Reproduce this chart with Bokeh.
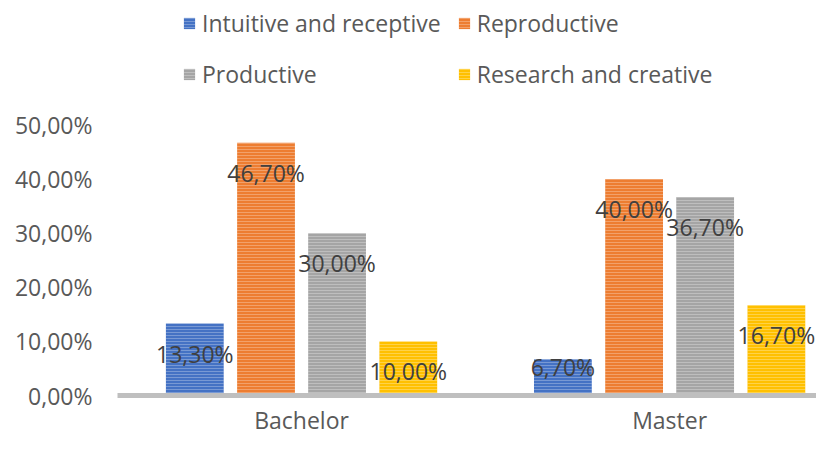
from bokeh.plotting import figure
from bokeh.models import Range1d, FixedTicker, ColumnDataSource, Legend, LegendItem
from bokeh.transform import dodge
from bokeh.embed import file_html
from bokeh.resources import INLINE
from bokeh.core.properties import value

groups = ["Bachelor", "Master"]
series_names = ["Intuitive and receptive", "Reproductive", "Productive", "Research and creative"]
intuitive = [13.3, 6.7]
reproductive = [46.7, 40.0]
productive = [30.0, 36.7]
research = [10.0, 16.7]
y_ticks = [0, 10, 20, 30, 40, 50]

colors = ["#4472C4", "#ED7D31", "#A5A5A5", "#FFC000"]
offsets = [-0.29, -0.0965, 0.0965, 0.29]
bar_w = 0.157
FONT = "Open Sans"
TXT = "#595959"

def pct(v):
    return f"{v:.2f}%".replace(".", ",")

p = figure(width=816, height=438, output_backend="svg", toolbar_location=None,
           x_range=Range1d(-0.5, 1.399), y_range=Range1d(0, 73),
           min_border_left=117, min_border_right=0, min_border_top=0,
           min_border_bottom=20)
p.outline_line_color = None
p.xgrid.visible = False
p.ygrid.visible = False

items = []
for name, vals, col, off in zip(series_names, [intuitive, reproductive, productive, research], colors, offsets):
    src = ColumnDataSource(dict(
        g=list(range(len(groups))),
        val=vals,
        lab=[pct(v) for v in vals],
        yoff=[30 if v >= 10 else 8 for v in vals],
    ))
    r = p.vbar(x=dodge("g", off), top="val", bottom=0, width=bar_w, source=src,
               fill_color=col, line_color=None,
               hatch_pattern="horizontal_line", hatch_color="white",
               hatch_alpha=0.28, hatch_scale=3, hatch_weight=1)
    p.text(x=dodge("g", off), y="val", text="lab", y_offset="yoff", source=src,
           text_align="center", text_baseline="middle",
           text_font=value(FONT), text_font_size="23px", text_color="#404040")
    items.append(LegendItem(label=name, renderers=[r]))

legend = Legend(items=items, location=(65, 304), orientation="horizontal", ncols=2,
                glyph_width=14, glyph_height=14, label_standoff=6, spacing=16,
                label_height=35, padding=0, margin=0, label_text_font=FONT,
                label_text_font_size="23px", label_text_color=TXT,
                background_fill_alpha=0, border_line_alpha=0)
p.add_layout(legend)

p.yaxis.ticker = FixedTicker(ticks=y_ticks)
p.yaxis.major_label_overrides = {t: pct(t) for t in y_ticks}
p.yaxis.axis_line_color = None
p.yaxis.major_tick_line_color = None
p.yaxis.minor_tick_line_color = None
p.yaxis.major_label_standoff = 19
p.yaxis.major_label_text_font = FONT
p.yaxis.major_label_text_font_size = "23px"
p.yaxis.major_label_text_color = TXT

p.xaxis.ticker = FixedTicker(ticks=list(range(len(groups))))
p.xaxis.major_label_overrides = {i: g for i, g in enumerate(groups)}
p.xaxis.axis_line_color = "#BFBFBF"
p.xaxis.axis_line_width = 5
p.xaxis.major_tick_line_color = None
p.xaxis.minor_tick_line_color = None
p.xaxis.major_label_standoff = 2
p.xaxis.major_label_text_font = FONT
p.xaxis.major_label_text_font_size = "23px"
p.xaxis.major_label_text_color = TXT

open("out.html", "w").write(file_html(p, INLINE))
